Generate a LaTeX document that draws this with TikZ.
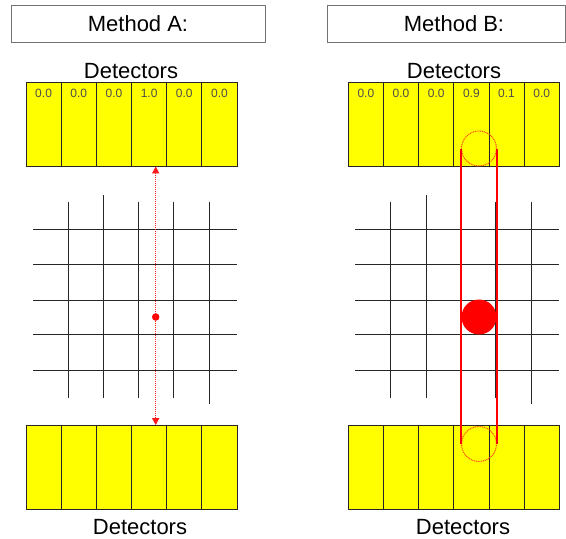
\documentclass[tikz,border=0pt]{standalone}
\usepackage{fontspec}
\setmainfont{Liberation Sans}
\usetikzlibrary{arrows.meta}
\definecolor{detyellow}{RGB}{255,255,0}
\definecolor{apred}{RGB}{255,70,20}

\begin{document}
\begin{tikzpicture}[x=1pt,y=-1pt,
  frame/.style={draw=black!55, line width=1pt},
  head/.style={font=\fontsize{22}{26}\selectfont},
  cell/.style={draw=black!85, fill=detyellow, line width=0.8pt, minimum width=35.17pt, minimum height=84pt, inner sep=0pt},
  val/.style={anchor=north, inner sep=0pt, text=black!70, font=\fontsize{12}{14}\selectfont},
  grid/.style={black!85, line width=0.9pt},
  ray/.style={red!90, dash pattern=on 1.2pt off 0.8pt, line width=1.3pt, {Triangle[width=7pt,length=7pt]}-{Triangle[width=7pt,length=7pt]}},
  aperture/.style={circle, draw=apred, dash pattern=on 1pt off 0.8pt, line width=1pt, inner sep=0pt, minimum size=35pt},
  tube/.style={red, line width=1.4pt}]
\useasboundingbox (0,0) rectangle (566,539);
% titles
\draw[frame] (11,5) rectangle (265,42);
\draw[frame] (327,5) rectangle (565.5,42);
\node[head] (titleA) at (138,23.5) {Method A:};
\node[head] (titleB) at (454,23.5) {Method B:};
\node[head] (labTA) at (131,71) {Detectors};
\node[head] (labTB) at (454,71) {Detectors};
\node[head] (labBA) at (140,527) {Detectors};
\node[head] (labBB) at (463,527) {Detectors};
% detector rows
\foreach \v [count=\i] in {0.0,0.0,0.0,1.0,0.0,0.0} {
  \node[cell] (tA\i) at ({26+35.17*(\i-0.5)},124) {};
  \node[val] (vA\i) at ([yshift=-7pt]tA\i.north) {\v};
  \node[cell] (bA\i) at ({26+35.17*(\i-0.5)},467.5) {};
}
\foreach \v [count=\i] in {0.0,0.0,0.0,0.9,0.1,0.0} {
  \node[cell] (tB\i) at ({348.3+35.17*(\i-0.5)},124) {};
  \node[val] (vB\i) at ([yshift=-7pt]tB\i.north) {\v};
  \node[cell] (bB\i) at ({348.3+35.17*(\i-0.5)},467.5) {};
}
% grids
\foreach \s in {0,322.3} {
  \foreach \y in {229.5,264.5,300,334.5,370}
    \draw[grid] (33+\s,\y) -- (237+\s,\y);
  \foreach \x/\a/\b in {68.3/201.7/397.7,103.7/195/397.7,138.3/201.7/397.7,173.3/201.7/397.7,209/201.7/404}
    \draw[grid] (\x+\s,\a) -- (\x+\s,\b);
}
% method A: point source
\node[circle, fill=red, inner sep=0pt, minimum size=7.5pt] (srcA) at (155.7,317) {};
\draw[ray] (srcA |- tA1.south) -- (srcA |- bA1.north);
% method B: finite source
\node[aperture] (apTop) at (479,148.5) {};
\node[aperture] (apBot) at (479,444) {};
\draw[tube] (apTop.west) -- (apBot.west);
\draw[tube] (apTop.east) -- (apBot.east);
\node[circle, fill=red, inner sep=0pt, minimum size=35pt] (srcB) at (479,317) {};
\end{tikzpicture}
\end{document}
